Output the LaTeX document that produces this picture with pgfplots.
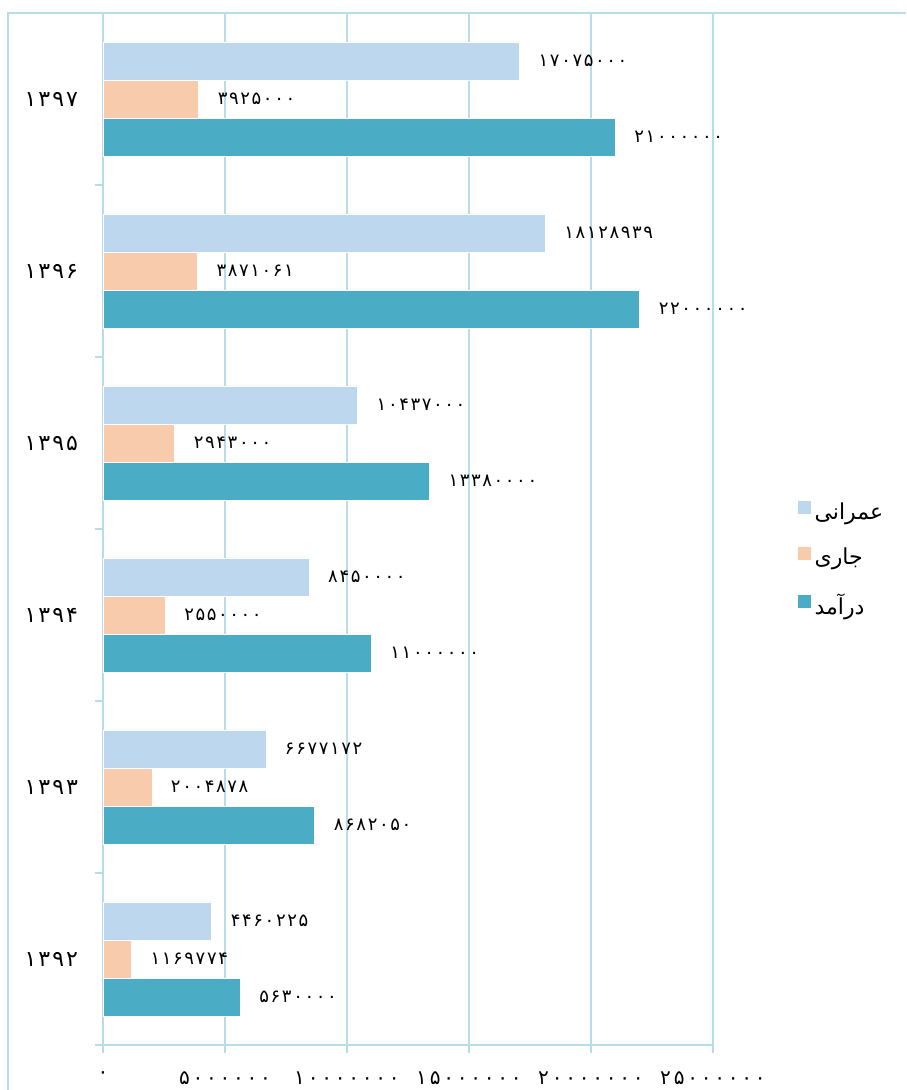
\documentclass[border=0pt]{standalone}
\usepackage{fontspec}
\usepackage{pgfplots}
\pgfplotsset{compat=1.18}
\usepackage{pgfplotstable}
\setmainfont{DejaVu Sans}
\newfontfamily\fa[Script=Arabic]{DejaVu Sans}
\newfontfamily\dig[LetterSpace=9]{DejaVu Sans}
\newfontfamily\digt[LetterSpace=14]{DejaVu Sans}
\TeXXeTstate=1

\definecolor{omrani}{HTML}{BDD7EE}
\definecolor{jari}{HTML}{F8CBAD}
\definecolor{daramad}{HTML}{4BACC6}
\definecolor{gridc}{HTML}{B7DEE8}

% y = category index (0 = 1392 ... 5 = 1397)
\pgfplotstableread{
y val lab
0 4460225 ۴۴۶۰۲۲۵
1 6677172 ۶۶۷۷۱۷۲
2 8450000 ۸۴۵۰۰۰۰
3 10437000 ۱۰۴۳۷۰۰۰
4 18128939 ۱۸۱۲۸۹۳۹
5 17075000 ۱۷۰۷۵۰۰۰
}\omranitab
\pgfplotstableread{
y val lab
0 1169774 ۱۱۶۹۷۷۴
1 2004878 ۲۰۰۴۸۷۸
2 2550000 ۲۵۵۰۰۰۰
3 2943000 ۲۹۴۳۰۰۰
4 3871061 ۳۸۷۱۰۶۱
5 3925000 ۳۹۲۵۰۰۰
}\jaritab
\pgfplotstableread{
y val lab
0 5630000 ۵۶۳۰۰۰۰
1 8682050 ۸۶۸۲۰۵۰
2 11000000 ۱۱۰۰۰۰۰۰
3 13380000 ۱۳۳۸۰۰۰۰
4 22000000 ۲۲۰۰۰۰۰۰
5 21000000 ۲۱۰۰۰۰۰۰
}\daramadtab

\begin{document}
\begin{tikzpicture}
\useasboundingbox (0,0) rectangle (453pt,545pt);
\draw[gridc, line width=0.75pt] (4pt,0) -- (4pt,538.5pt) -- (453pt,538.5pt);
\begin{axis}[
    at={(51.5pt,22.5pt)}, anchor=south west,
    scale only axis, width=305pt, height=516pt,
    xbar, bar width=0.221,
    xmin=0, xmax=25000000, ymin=-0.5, ymax=5.5,
    axis x line*=bottom, axis y line*=left,
    axis line style={gridc, line width=1pt},
    tick style={gridc, line width=1pt},
    tick align=outside, major tick length=4pt,
    xmajorgrids, major grid style={gridc, line width=1pt},
    scaled x ticks=false,
    xtick={0,5000000,10000000,15000000,20000000,25000000},
    xticklabels={۰,۵۰۰۰۰۰۰,۱۰۰۰۰۰۰۰,۱۵۰۰۰۰۰۰,۲۰۰۰۰۰۰۰,۲۵۰۰۰۰۰۰},
    xticklabel style={font=\digt\fontsize{10}{11}\selectfont, yshift=-6pt},
    ytick={-0.5,0.5,1.5,2.5,3.5,4.5,5.5},
    yticklabels={,۱۳۹۲,۱۳۹۳,۱۳۹۴,۱۳۹۵,۱۳۹۶,۱۳۹۷},
    yticklabel style={font=\dig\fontsize{11}{12}\selectfont, yshift=-43pt, xshift=-5pt},
    point meta=explicit symbolic,
    nodes near coords={\pgfplotspointmeta},
    nodes near coords style={anchor=west, xshift=6pt, black,
        font=\dig\fontsize{9}{10}\selectfont},
    legend style={at={(1.138,0.47)}, anchor=west, draw=none, fill=none,
        inner sep=0pt, row sep=9pt, font=\fa\fontsize{11}{13}\selectfont},
    legend cell align=left,
    legend image code/.code={\fill[#1, draw=none] (0pt,-1pt) rectangle (6.5pt,5.5pt);},
]
\addplot[fill=omrani, draw=white, line width=0.4pt, bar shift=0.221]
    table[x=val, y=y, meta=lab] {\omranitab};
\addlegendentry{\beginR عمرانی\endR}
\addplot[fill=jari, draw=white, line width=0.4pt, bar shift=0]
    table[x=val, y=y, meta=lab] {\jaritab};
\addlegendentry{\beginR جاری\endR}
\addplot[fill=daramad, draw=white, line width=0.4pt, bar shift=-0.221]
    table[x=val, y=y, meta=lab] {\daramadtab};
\addlegendentry{\beginR درآمد\endR}
\end{axis}
\end{tikzpicture}
\end{document}
